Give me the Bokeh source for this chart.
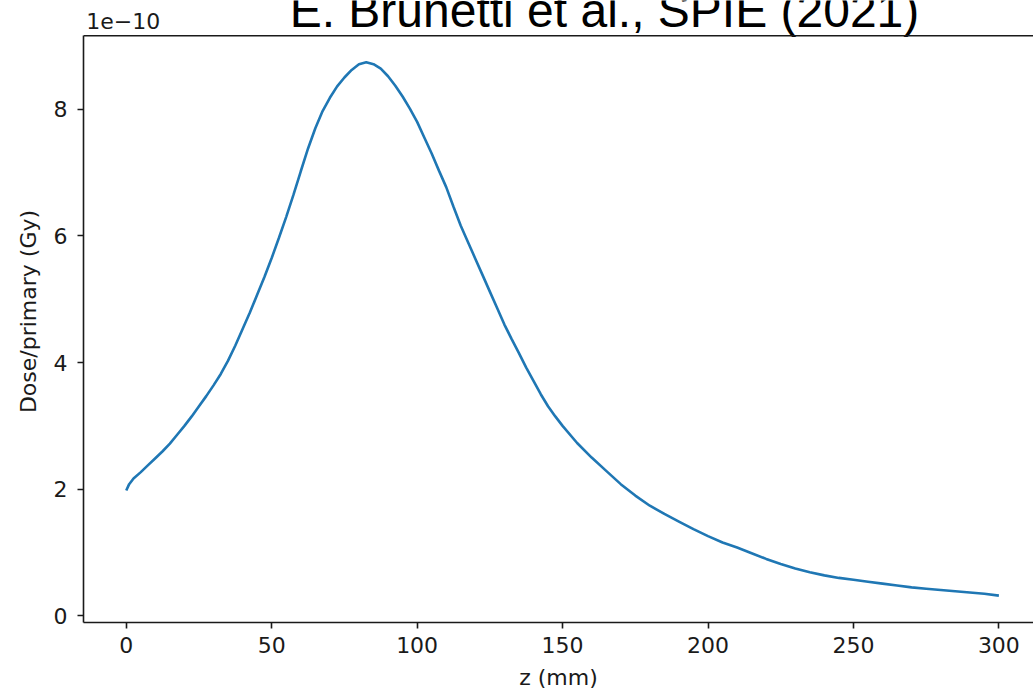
from bokeh.plotting import figure
from bokeh.models import Range1d, FixedTicker, Span, ColumnDataSource
from bokeh.core.properties import value
from bokeh.embed import file_html
from bokeh.resources import INLINE

# Depth z (mm) and dose per primary (in units of 1e-10 Gy)
z_mm = [0, 1, 2.5, 5, 7.5, 10, 12.5, 15, 17.5, 20, 22.5, 25, 27.5, 30, 32.5, 35, 37.5,
        40, 42.5, 45, 47.5, 50, 52.5, 55, 57.5, 60, 62.5, 65, 67.5, 70, 72.5, 75,
        77.5, 80, 82.5, 85, 87.5, 90, 92.5, 95, 97.5, 100, 102.5, 105, 107.5, 110,
        112.5, 115, 117.5, 120, 122.5, 125, 127.5, 130, 132.5, 135, 137.5, 140,
        142.5, 145, 147.5, 150, 155, 160, 165, 170, 175, 180, 185, 190, 195, 200,
        205, 210, 215, 220, 225, 230, 235, 240, 245, 250, 255, 260, 265, 270, 275,
        280, 285, 290, 295, 300]
dose_e10 = [1.98, 2.08, 2.17, 2.27, 2.38, 2.49, 2.60, 2.72, 2.86, 3.00, 3.15, 3.31,
            3.47, 3.64, 3.82, 4.03, 4.27, 4.53, 4.79, 5.07, 5.35, 5.65, 5.97, 6.30,
            6.65, 7.02, 7.38, 7.70, 7.97, 8.18, 8.36, 8.50, 8.62, 8.71, 8.74, 8.71,
            8.64, 8.52, 8.37, 8.20, 8.01, 7.80, 7.55, 7.30, 7.03, 6.77, 6.46, 6.16,
            5.90, 5.64, 5.38, 5.12, 4.86, 4.60, 4.37, 4.15, 3.92, 3.71, 3.50, 3.31,
            3.15, 3.00, 2.73, 2.50, 2.29, 2.08, 1.90, 1.74, 1.61, 1.49, 1.37, 1.26,
            1.16, 1.08, 0.99, 0.90, 0.82, 0.75, 0.69, 0.64, 0.60, 0.57, 0.54, 0.51,
            0.48, 0.45, 0.43, 0.41, 0.39, 0.37, 0.35, 0.32]
x_ticks = [0, 50, 100, 150, 200, 250, 300]
y_ticks = [0, 2, 4, 6, 8]

title_text = "E. Brunetti et al., SPIE (2021)"
offset_text = "1e\u221210"
x_label = "z (mm)"
y_label = "Dose/primary (Gy)"

FONT = "DejaVu Sans"
INK = "#1a1a1a"

# axes box (matplotlib-like, with 5% margins); plot area extends above it
X0, X1 = -14.7, 311.9
Y0, Y_BOX_TOP, Y_FRAME_TOP = -0.104, 9.16, 9.716

p = figure(width=1033, height=695, output_backend="svg", toolbar_location=None,
           x_range=Range1d(X0, X1), y_range=Range1d(Y0, Y_FRAME_TOP),
           min_border_left=83, min_border_right=0, min_border_top=0,
           min_border_bottom=73)
p.title = None
p.grid.visible = False
p.outline_line_color = None
p.background_fill_color = "white"
p.border_fill_color = "white"

src = ColumnDataSource(dict(z=z_mm, d=dose_e10))
p.line("z", "d", source=src, line_color="#1f77b4", line_width=2.6)

for ax in (p.xaxis[0], p.yaxis[0]):
    ax.axis_line_color = INK
    ax.axis_line_width = 1.6
    ax.major_tick_line_color = INK
    ax.major_tick_line_width = 1.6
    ax.major_tick_out = 6
    ax.major_tick_in = 0
    ax.minor_tick_line_color = None
    ax.major_label_text_font = FONT
    ax.major_label_text_font_size = "22px"
    ax.major_label_text_color = INK
    ax.axis_label_text_font = FONT
    ax.axis_label_text_font_size = "22px"
    ax.axis_label_text_font_style = "normal"
    ax.axis_label_text_color = INK

p.xaxis[0].ticker = FixedTicker(ticks=x_ticks)
p.yaxis[0].ticker = FixedTicker(ticks=y_ticks)
p.yaxis[0].bounds = (Y0, Y_BOX_TOP)
p.xaxis[0].axis_label = x_label
p.yaxis[0].axis_label = y_label
p.xaxis[0].major_label_standoff = 8
p.xaxis[0].axis_label_standoff = 9
p.yaxis[0].major_label_standoff = 10
p.yaxis[0].axis_label_standoff = 10

# top spine of the axes box
p.add_layout(Span(location=Y_BOX_TOP, dimension="width", line_color=INK, line_width=1.6))

# title and exponent text, drawn as text glyphs above the axes box
p.text(x=[164.4], y=[9.565], text=[title_text], text_font=value("Liberation Sans"),
       text_font_size=value("48px"), text_color="black", text_align="center",
       text_baseline="alphabetic")
p.text(x=[-13.76], y=[9.40], text=[offset_text], text_font=value(FONT),
       text_font_size=value("22px"), text_color=INK, text_align="left",
       text_baseline="alphabetic")

open("out.html", "w").write(file_html(p, INLINE))
